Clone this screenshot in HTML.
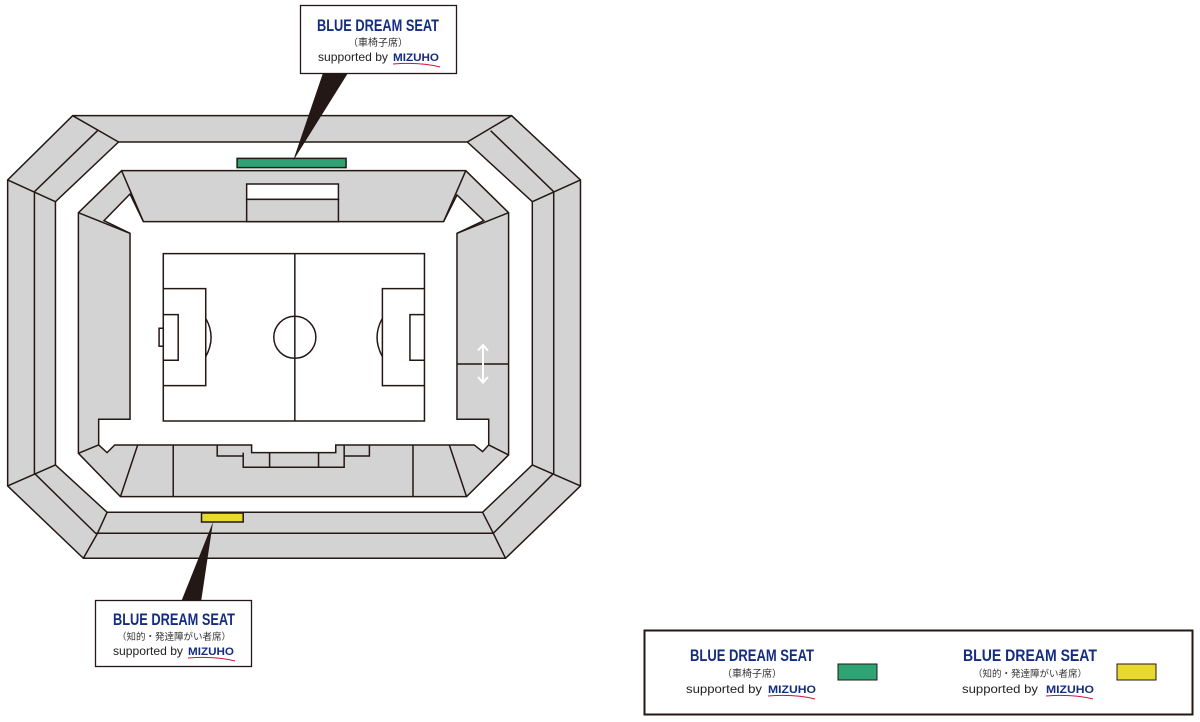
<!DOCTYPE html>
<html><head><meta charset="utf-8"><style>
html,body{margin:0;padding:0;background:#fff;width:1200px;height:722px;overflow:hidden}
svg{display:block}
.t{font-family:"Liberation Sans Narrow","Liberation Sans",sans-serif;font-weight:bold;fill:#142d80}
.j{font-family:"Liberation Sans","Noto Sans CJK JP",sans-serif;fill:#333}
.s{font-family:"Liberation Sans",sans-serif;fill:#222}
.m{font-family:"Liberation Sans",sans-serif;font-weight:bold;fill:#142d80}
</style></head><body>
<svg width="1200" height="722" viewBox="0 0 1200 722" xmlns="http://www.w3.org/2000/svg">
<g transform="translate(0,100) scale(0.3824,0.3333)" stroke="#231815" stroke-width="1.5" fill="none">
 <path fill="#d3d3d3" fill-rule="evenodd" vector-effect="non-scaling-stroke" d="M190,47 L1338,47 L1518,240 L1518,1158 L1322,1375 L218,1375 L20,1158 L20,240 Z M310,126 L145,305 L145,1095 L280,1237 L1262,1237 L1392,1095 L1392,305 L1222,126 Z"/>
 <path vector-effect="non-scaling-stroke" d="M190,47 L310,126 M1338,47 L1222,126 M20,240 L145,305 M1518,240 L1392,305 M20,1158 L145,1095 M1518,1158 L1392,1095 M280,1237 L255,1300 L218,1375 M1262,1237 L1290,1300 L1322,1375 M255,92 L90,275 L90,1120 L250,1300 L1290,1300 L1448,1120 L1448,275 L1283,92"/>
 <path fill="#d3d3d3" vector-effect="non-scaling-stroke" d="M318,212 L1218,212 L1330,338 L1330,1065 L1220,1190 L315,1190 L205,1060 L205,338 Z"/>
 <path fill="#fff" vector-effect="non-scaling-stroke" d="M272,362 L340,282 L375,365 L1160,365 L1195,285 L1265,362 L1195,400 L1195,958 L1278,958 L1278,1035 L1262,1055 L1240,1035 L878,1035 L878,1058 L658,1058 L658,1035 L300,1035 L280,1058 L258,1035 L258,958 L340,958 L340,400 Z"/>
 <path vector-effect="non-scaling-stroke" d="M318,212 L375,365 M1218,212 L1160,365 M205,338 L340,400 M1330,338 L1195,400 M205,1060 L258,1035 M1330,1065 L1278,1035 M360,1035 L315,1190 M453,1035 L453,1190 M1080,1035 L1080,1190 M1175,1035 L1220,1190 M1195,792 L1330,792 M568,1035 L568,1068 L636,1068 L636,1102 L900,1102 L900,1068 L966,1068 L966,1035 M900,1035 L900,1068 M636,1058 L636,1068 M705,1058 L705,1102 M833,1058 L833,1102"/>
 <rect x="645" y="252" width="240" height="46" fill="#fff" vector-effect="non-scaling-stroke"/>
 <rect x="645" y="298" width="240" height="67" fill="#d3d3d3" vector-effect="non-scaling-stroke"/>
 <rect x="427" y="461" width="683" height="502" fill="#fff" vector-effect="non-scaling-stroke"/>
 <path vector-effect="non-scaling-stroke" d="M771,461 L771,963 M427,566 L538,566 L538,857 L427,857 M427,644 L466,644 L466,781 L427,781 M1110,566 L1000,566 L1000,857 L1110,857 M1110,644 L1072,644 L1072,781 L1110,781 M538,655 Q566,712 538,770 M1000,655 Q972,712 1000,770"/>
 <rect x="416" y="685" width="11" height="54" vector-effect="non-scaling-stroke"/>
 <ellipse cx="771" cy="712" rx="55" ry="63" vector-effect="non-scaling-stroke"/>
 <path stroke="#fff" stroke-width="2" vector-effect="non-scaling-stroke" d="M1263,735 L1263,848 M1250,752 L1263,735 L1276,752 M1250,831 L1263,848 L1276,831"/>
 <rect x="620" y="175" width="285" height="28" fill="#2ea374" vector-effect="non-scaling-stroke"/>
 <rect x="527" y="1239" width="109" height="27" fill="#e8d92f" vector-effect="non-scaling-stroke"/>
</g>
<polygon points="323,73 348,73 293,161" fill="#231815"/>
<polygon points="213,522 181,602 201,602" fill="#231815"/>

<rect x="300.5" y="5.5" width="156" height="68" fill="#fff" stroke="#231815" stroke-width="1.3"/>
<text class="t" x="378" y="31" font-size="17" text-anchor="middle" textLength="122" lengthAdjust="spacingAndGlyphs">BLUE DREAM SEAT</text>
<text class="j" x="378" y="46" font-size="10" text-anchor="middle">（車椅子席）</text>
<text class="s" x="318" y="61" font-size="12" textLength="70" lengthAdjust="spacingAndGlyphs">supported by</text>
<text class="m" x="393" y="61" font-size="11" textLength="46" lengthAdjust="spacingAndGlyphs">MIZUHO</text>
<path d="M393,64 Q420,62 440,67" stroke="#d0103a" stroke-width="1" fill="none"/>

<rect x="95.5" y="600.5" width="156" height="66" fill="#fff" stroke="#231815" stroke-width="1.3"/>
<text class="t" x="174" y="625" font-size="17" text-anchor="middle" textLength="122" lengthAdjust="spacingAndGlyphs">BLUE DREAM SEAT</text>
<text class="j" x="174" y="640" font-size="9.5" text-anchor="middle">（知的・発達障がい者席）</text>
<text class="s" x="113" y="655" font-size="12" textLength="70" lengthAdjust="spacingAndGlyphs">supported by</text>
<text class="m" x="188" y="655" font-size="11" textLength="46" lengthAdjust="spacingAndGlyphs">MIZUHO</text>
<path d="M188,658 Q215,656 235,661" stroke="#d0103a" stroke-width="1" fill="none"/>

<rect x="644.5" y="630.5" width="548" height="84" fill="#fff" stroke="#231815" stroke-width="2"/>
<text class="t" x="752" y="661" font-size="17" text-anchor="middle" textLength="124" lengthAdjust="spacingAndGlyphs">BLUE DREAM SEAT</text>
<text class="j" x="752" y="677" font-size="10" text-anchor="middle">（車椅子席）</text>
<text class="s" x="686" y="693" font-size="12" textLength="76" lengthAdjust="spacingAndGlyphs">supported by</text>
<text class="m" x="768" y="693" font-size="11" textLength="48" lengthAdjust="spacingAndGlyphs">MIZUHO</text>
<path d="M768,696 Q795,694 815,699" stroke="#d0103a" stroke-width="1" fill="none"/>
<rect x="838" y="664" width="39" height="16" fill="#2ea374" stroke="#231815" stroke-width="1"/>

<text class="t" x="1030" y="661" font-size="17" text-anchor="middle" textLength="134" lengthAdjust="spacingAndGlyphs">BLUE DREAM SEAT</text>
<text class="j" x="1030" y="677" font-size="9.5" text-anchor="middle">（知的・発達障がい者席）</text>
<text class="s" x="962" y="693" font-size="12" textLength="76" lengthAdjust="spacingAndGlyphs">supported by</text>
<text class="m" x="1046" y="693" font-size="11" textLength="48" lengthAdjust="spacingAndGlyphs">MIZUHO</text>
<path d="M1046,696 Q1073,694 1093,699" stroke="#d0103a" stroke-width="1" fill="none"/>
<rect x="1117" y="664" width="39" height="16" fill="#e8d92f" stroke="#231815" stroke-width="1"/>
</svg>
</body></html>
